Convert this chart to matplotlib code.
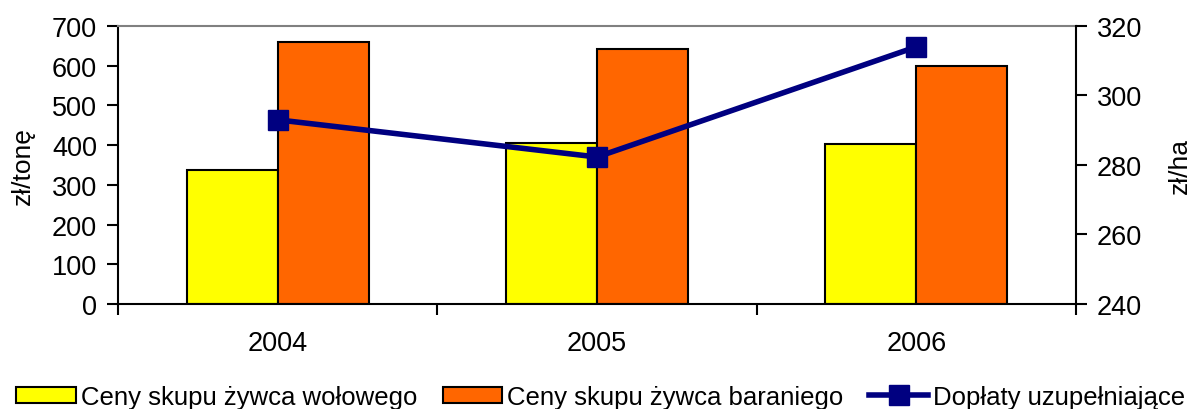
import matplotlib
matplotlib.use("Agg")
import matplotlib.pyplot as plt
import numpy as np

plt.rcParams['font.family'] = ['Liberation Sans', 'DejaVu Sans']
plt.rcParams['font.size'] = 19

years = ['2004', '2005', '2006']
beef = [338, 405, 402]        # zł/tonę
mutton = [659, 641, 600]      # zł/tonę
payments = [293, 282.3, 314]  # zł/ha

fig = plt.figure(figsize=(11.97, 4.10), dpi=100)
ax = fig.add_axes([118 / 1197, 105 / 410, (1076 - 118) / 1197, 278 / 410])

x = np.arange(len(years))
w = 0.285
ax.bar(x - w / 2, beef, w, color='#FFFF00', edgecolor='black', linewidth=1.5,
       label='Ceny skupu żywca wołowego', zorder=2)
ax.bar(x + w / 2, mutton, w, color='#FF6600', edgecolor='black', linewidth=1.5,
       label='Ceny skupu żywca baraniego', zorder=2)

ax.set_xlim(-0.5, 2.5)
ax.set_ylim(0, 700)
ax.set_yticks(range(0, 701, 100))
ax.set_xticks([-0.5, 0.5, 1.5, 2.5])
ax.set_xticklabels([])
ax.set_xticks(x, minor=True)
ax.set_xticklabels(years, minor=True, fontsize=19.5)
ax.tick_params(axis='x', which='minor', length=0, pad=19)
ax.tick_params(axis='both', which='major', length=8, width=1.5,
               direction='out', labelsize=19.5, pad=7)
ax.set_ylabel('zł/tonę', fontsize=19)
ax.yaxis.set_label_coords(-0.0866, 0.5)

for s in ['left', 'bottom']:
    ax.spines[s].set_linewidth(1.5)
ax.spines['top'].set_color('#808080')
ax.spines['top'].set_linewidth(1.5)
ax.spines['right'].set_visible(False)

ax2 = ax.twinx()
ax2.plot(x, payments, color='#000080', linewidth=4, marker='s', markersize=15,
         label='Dopłaty uzupełniające')
ax2.set_ylim(240, 320)
ax2.set_yticks(range(240, 321, 20))
ax2.tick_params(axis='y', length=8, width=1.5, direction='out',
                labelsize=19.5, pad=7)
ax2.set_ylabel('zł/ha', fontsize=19)
ax2.yaxis.set_label_coords(1.096, 0.5)
ax2.spines['right'].set_linewidth(1.5)
for s in ['top', 'left', 'bottom']:
    ax2.spines[s].set_visible(False)

h1, l1 = ax.get_legend_handles_labels()
h2, l2 = ax2.get_legend_handles_labels()
fig.legend(h1 + h2, l1 + l2, loc='center', bbox_to_anchor=(0.502, 12 / 410),
           ncol=3, frameon=False, handlelength=2.3, handleheight=0.6,
           handletextpad=0.2, columnspacing=1.0, fontsize=18.5,
           borderpad=0, borderaxespad=0)

fig.savefig('out.png', dpi=100)
